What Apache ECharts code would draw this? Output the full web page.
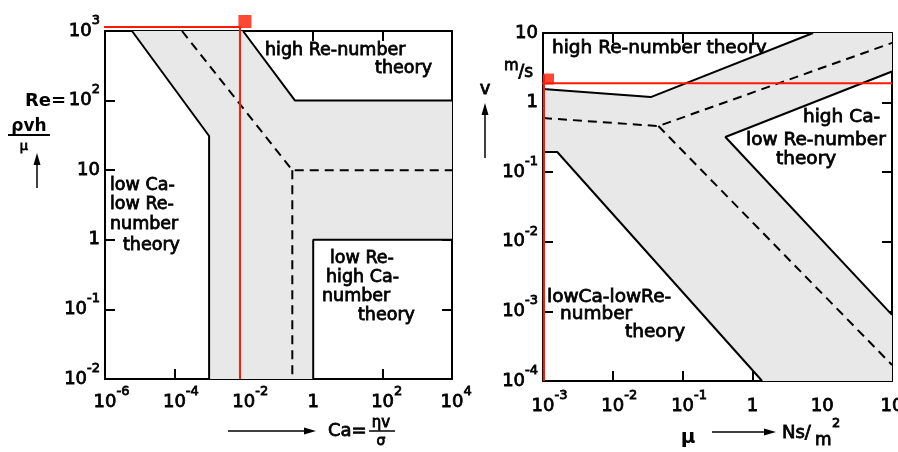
<!DOCTYPE html>
<html>
<head>
<meta charset="utf-8">
<script src="https://cdn.jsdelivr.net/npm/echarts@6/dist/echarts.min.js"></script>
<style>html,body{margin:0;padding:0;background:#fff}#chart{width:898px;height:452px}</style>
</head>
<body>
<div id="chart"></div>
<script>
// left panel: Ca (x) against Re (y), both log10
var caTicks = [-6, -4, -2, 0, 2, 4];      // exponents shown on the Ca axis
var reTicks = [-2, -1, 0, 1, 2, 3];       // exponents shown on the Re axis
var caLowCaBound = [[6e-6, 1000], [1e-3, 31], [1e-3, 0.01]];
var caDashDiag = [[1.66e-4, 1000], [0.25, 10], [1e4, 10]];
var caDashVert = [[0.25, 10], [0.25, 0.01]];
var caHighReBound = [[0.0095, 1000], [0.3, 100], [1e4, 100]];
var caLowReBound = [[1, 0.01], [1, 1], [1e4, 1]];
var caShade = [[6e-6, 1000], [1e-3, 31], [1e-3, 0.01], [1, 0.01], [1, 1], [1e4, 1], [1e4, 100], [0.3, 100], [0.0095, 1000]];
var caRed = [[8.2e-7, 1140], [0.0078, 1140], [0.0078, 0.01]];
var caRedMark = [[0.0108, 1370]];

// right panel: mu (x) against v (y), both log10
var muTicks = [-3, -2, -1, 0, 1, 2];
var vTicks = [-4, -3, -2, -1, 0, 1];
var muUpper = [[1e-3, 1.57], [0.035, 1.2], [7.4, 10]];
var muDashA = [[1e-3, 0.6], [0.045, 0.46], [100, 7.2]];
var muDashB = [[0.045, 0.46], [100, 1.7e-4]];
var muHighCa = [[100, 2.8], [0.41, 0.32], [100, 8.9e-4]];
var muLowCa = [[1e-3, 0.195], [1.6e-3, 0.195], [1.38, 1e-4]];
var muShade = [[1e-3, 1.57], [0.035, 1.2], [7.4, 10], [100, 10], [100, 2.8], [0.41, 0.32], [100, 8.9e-4], [100, 1e-4], [1.38, 1e-4], [1.6e-3, 0.195], [1e-3, 0.195]];
var muRed = [[1.035e-3, 1e-4], [1.035e-3, 2.5]];
var muRedH = [[9.06e-4, 1.9], [100, 1.9]];
var muRedMark = [[1.2e-3, 2.18]];

var FONT = 'DejaVu Sans';
var INK = '#000';
var RED = '#ff1a00';
var HEAVY = 0.8;   // thin outline so text looks as heavy as the print

function lg(pts) {
    return pts.map(function (p) { return [Math.log10(p[0]), Math.log10(p[1])]; });
}
function pow(v) {
    v = Math.round(v);
    if (v === 0) return '{b|1}';
    if (v === 1) return '{b|10}';
    return '{b|10}{e|' + v + '}';
}
// x labels: keep the "10" centred on the tick, exponent hanging to the right
function powX(v) {
    v = Math.round(v);
    if (v === 0 || v === 1) return pow(v);
    return '{h|' + v + '}' + pow(v);
}
function mkAxis(grid, ticks, pos, labels, margin, fmt) {
    var rt = {fontFamily: FONT, color: INK, textBorderColor: INK, textBorderWidth: HEAVY};
    return {
        type: 'value', gridIndex: grid, position: pos,
        min: ticks[0], max: ticks[ticks.length - 1], interval: ticks[1] - ticks[0],
        splitLine: {show: false},
        axisLine: {show: true, onZero: false, lineStyle: {color: INK, width: 2}},
        axisTick: {show: true, inside: true, length: 10, lineStyle: {color: INK, width: 2}},
        axisLabel: labels ? {
            margin: margin, formatter: fmt || pow, color: INK,
            rich: {
                b: Object.assign({fontSize: 18, lineHeight: 34}, rt),
                e: Object.assign({fontSize: 13, lineHeight: 13, verticalAlign: 'top'}, rt),
                h: {fontSize: 13, fontFamily: FONT, lineHeight: 13, color: 'rgba(0,0,0,0)'}
            }
        } : {show: false}
    };
}
function shade(grid, pts) {
    var p = lg(pts);
    return {
        type: 'custom', xAxisIndex: grid * 2, yAxisIndex: grid * 2, silent: true, z: 1,
        data: [p[0]],
        renderItem: function (params, api) {
            return {
                type: 'polygon',
                shape: {points: p.map(function (q) { return api.coord(q); })},
                style: {fill: '#e8e8e8'}
            };
        }
    };
}
function line(grid, pts, dashed, color) {
    return {
        type: 'line', xAxisIndex: grid * 2, yAxisIndex: grid * 2, data: lg(pts),
        symbol: 'none', silent: true, clip: false, z: color ? 5 : 3,
        lineStyle: {color: color || INK, width: 2, type: dashed ? [9, 6] : 'solid'}
    };
}
function mark(grid, pts, size) {
    return {
        type: 'scatter', xAxisIndex: grid * 2, yAxisIndex: grid * 2, data: lg(pts),
        symbol: 'rect', symbolSize: size, clip: false, silent: true, z: 6,
        itemStyle: {color: RED}
    };
}
function T(x, y, s, size, opt) {
    opt = opt || {};
    return {
        type: 'text', x: x, y: y, silent: true,
        style: {
            text: s, fontSize: size, fontFamily: FONT, fontWeight: opt.bold ? 'bold' : 'normal',
            fill: INK, stroke: INK, lineWidth: opt.bold ? 0 : HEAVY,
            align: opt.align || 'left', verticalAlign: 'middle', rich: opt.rich
        }
    };
}
function arrow(x1, y1, x2, y2) {
    var dx = x2 - x1, dy = y2 - y1, L = Math.sqrt(dx * dx + dy * dy), ux = dx / L, uy = dy / L, h = 12, w = 3.5;
    var bx = x2 - ux * h, by = y2 - uy * h;
    return [
        {type: 'line', silent: true, shape: {x1: x1, y1: y1, x2: bx, y2: by}, style: {stroke: INK, lineWidth: 1.5}},
        {type: 'polygon', silent: true, shape: {points: [[x2, y2], [bx - uy * w, by + ux * w], [bx + uy * w, by - ux * w]]}, style: {fill: INK}}
    ];
}

var graphics = [
    // left panel texts
    T(265, 50, 'high Re-number', 17.5),
    T(432, 68, 'theory', 17.5, {align: 'right'}),
    T(110, 185, 'low Ca-', 17.5),
    T(110, 204, 'low Re-', 17.5),
    T(110, 224, 'number', 17.5),
    T(123, 245, 'theory', 17.5),
    T(330, 258, 'low Re-', 17.5),
    T(326, 277, 'high Ca-', 17.5),
    T(322, 296, 'number', 17.5),
    T(358, 315, 'theory', 17.5),
    // left axis titles
    T(25, 101, 'Re=', 18, {bold: true}),
    T(29, 127, 'ρvh', 17, {bold: true, align: 'center'}),
    {type: 'line', silent: true, shape: {x1: 8, y1: 135, x2: 50, y2: 135}, style: {stroke: INK, lineWidth: 2}},
    T(24, 147, 'μ', 13, {align: 'center'}),
    T(328, 431, 'Ca=', 18),
    T(381, 423, 'ηv', 15, {align: 'center'}),
    {type: 'line', silent: true, shape: {x1: 369, y1: 431, x2: 395, y2: 431}, style: {stroke: INK, lineWidth: 1.5}},
    T(381, 441, 'σ', 14, {align: 'center'}),
    // right panel texts
    T(552, 48, 'high Re-number theory', 18.5),
    T(803, 117, 'high Ca-', 18.5),
    T(746, 140, 'low Re-number', 18.5),
    T(776, 159, 'theory', 18.5),
    T(547, 297, 'lowCa-lowRe-', 18.5),
    T(560, 314, 'number', 18.5),
    T(625, 332, 'theory', 18.5),
    // right axis titles
    T(485, 89, 'v', 18, {align: 'center'}),
    T(504, 70, '{m|m}{s|/s}', 16, {rich: {m: {fontSize: 15, fontFamily: FONT, verticalAlign: 'top', lineHeight: 22}, s: {fontSize: 17, fontFamily: FONT, verticalAlign: 'bottom', lineHeight: 22}}}),
    T(688, 438, 'μ', 20, {align: 'center', bold: true}),
    T(782, 433, 'Ns/', 18),
    T(815, 441, 'm', 17),
    T(832, 424, '2', 13)
].concat(arrow(37, 188, 37, 153), arrow(228, 431, 316, 431), arrow(485, 158, 485, 103), arrow(712, 432, 776, 432));

var myChart = echarts.init(document.getElementById('chart'));
myChart.setOption({
    animation: false,
    backgroundColor: '#fff',
    grid: [
        {left: 105, top: 31, width: 347, height: 348, outerBoundsMode: 'none', containLabel: false},
        {left: 543, top: 33, width: 349, height: 348, outerBoundsMode: 'none', containLabel: false}
    ],
    xAxis: [
        mkAxis(0, caTicks, 'bottom', true, 6, powX),
        mkAxis(0, caTicks, 'top', false),
        mkAxis(1, muTicks, 'bottom', true, 8, powX),
        mkAxis(1, muTicks, 'top', false)
    ],
    yAxis: [
        mkAxis(0, reTicks, 'left', true, 5),
        mkAxis(0, reTicks, 'right', false),
        mkAxis(1, vTicks, 'left', true, 5),
        mkAxis(1, vTicks, 'right', false)
    ],
    series: [
        shade(0, caShade),
        line(0, caLowCaBound),
        line(0, caHighReBound),
        line(0, caLowReBound),
        line(0, caDashDiag, true),
        line(0, caDashVert, true),
        line(0, caRed, false, RED),
        mark(0, caRedMark, 13),
        shade(1, muShade),
        line(1, muUpper),
        line(1, muHighCa),
        line(1, muLowCa),
        line(1, muDashA, true),
        line(1, muDashB, true),
        line(1, muRed, false, RED),
        line(1, muRedH, false, RED),
        mark(1, muRedMark, 11)
    ],
    graphic: graphics
});
</script>
</body>
</html>
